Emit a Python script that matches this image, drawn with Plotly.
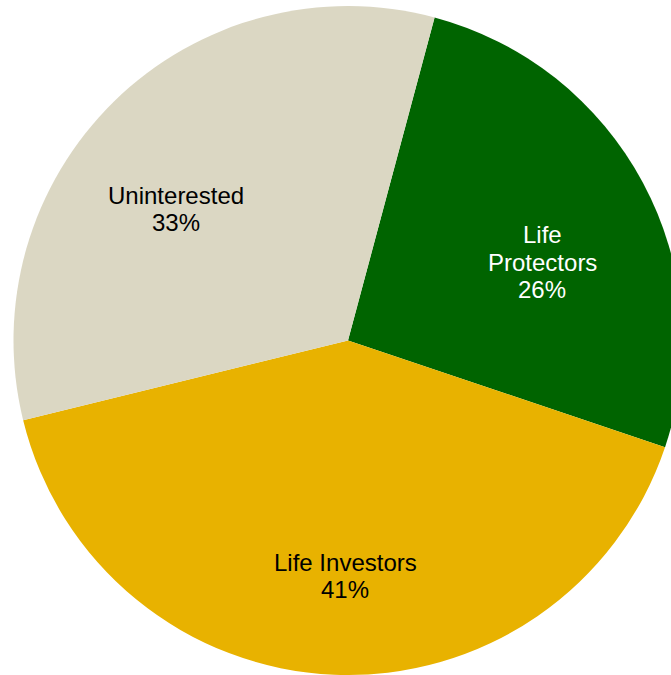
import plotly.graph_objects as go

labels = ["Life Protectors", "Life Investors", "Uninterested"]
values = [26, 41, 33]
colors = ["#006400", "#E8B200", "#DBD7C3"]

# label text lines, colour and block centre (pixels) for each slice label
label_lines = [["Life", "Protectors"], ["Life Investors"], ["Uninterested"]]
label_colors = ["white", "black", "black"]
label_centers = [(542, 262), (345, 576), (176, 209)]

W, H = 696, 675
LINE_GAP = 27
FONT = "Liberation Sans, Arial, sans-serif"

fig = go.Figure(go.Pie(
    labels=labels,
    values=values,
    sort=False,
    direction="clockwise",
    rotation=15,
    marker=dict(colors=colors, line=dict(width=0)),
    textinfo="none",
    showlegend=False,
    hoverinfo="label+percent",
    domain=dict(x=[13 / W, 683 / W], y=[0, 669 / H]),
))

annotations = []
for lines, val, col, (cx, cy) in zip(label_lines, values, label_colors, label_centers):
    all_lines = lines + [f"{val}%"]
    n = len(all_lines)
    for i, txt in enumerate(all_lines):
        py = cy + (i - (n - 1) / 2) * LINE_GAP
        annotations.append(dict(
            x=cx / W, y=1 - py / H, xref="paper", yref="paper",
            text=txt, showarrow=False, xanchor="center", yanchor="middle",
            font=dict(family=FONT, size=24, color=col),
        ))

fig.update_layout(
    width=W,
    height=H,
    margin=dict(l=0, r=0, t=0, b=0),
    paper_bgcolor="white",
    plot_bgcolor="white",
    annotations=annotations,
)

fig.write_html(
    "out.html",
    config={"displayModeBar": False},
    post_script="document.body.style.margin='0';document.body.style.overflow='hidden';document.documentElement.style.overflow='hidden';",
)
